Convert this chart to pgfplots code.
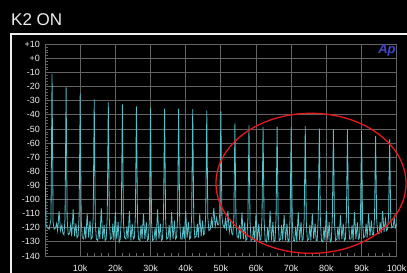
\documentclass[border=0pt]{standalone}
\usepackage{fontspec}
\setmainfont{Liberation Sans}
\usepackage{pgfplots}
\usepackage{pgfplotstable}
\pgfplotsset{compat=1.18}
\definecolor{trace}{RGB}{85,192,200}
\definecolor{gridc}{RGB}{100,100,100}
\definecolor{fg}{RGB}{238,238,238}
\definecolor{apblue}{RGB}{70,70,205}
\definecolor{ell}{RGB}{230,25,30}
\pgfplotstableread{
f db
0.0 -73
0.3 -118
0.7 -120
1.2 -121
1.7 -114
2.0 -11
2.3 -116
2.6 -121
3.0 -120
3.3 -117
3.6 -122
4.0 -108
4.4 -122
4.8 -118
5.1 -124
5.4 -125
5.7 -113
6.0 -20.5
6.3 -114
6.6 -125
7.0 -124
7.3 -118
7.6 -126
8.0 -107
8.4 -126
8.8 -117
9.1 -127
9.4 -126
9.7 -112
10.0 -25
10.3 -115
10.6 -127
11.0 -128
11.3 -119
11.6 -128
12.0 -110
12.4 -127
12.8 -115
13.1 -128
13.4 -127
13.7 -113
14.0 -29
14.3 -116
14.6 -128
15.0 -129
15.3 -120
15.6 -128
16.0 -106
16.4 -128
16.8 -118
17.1 -129
17.4 -128
17.7 -112
18.0 -31
18.3 -115
18.6 -128
19.0 -127
19.3 -117
19.6 -129
20.0 -109
20.4 -128
20.8 -116
21.1 -130
21.4 -128
21.7 -113
22.0 -32.5
22.3 -116
22.6 -127
23.0 -128
23.3 -119
23.6 -128
24.0 -108
24.4 -129
24.8 -117
25.1 -128
25.4 -127
25.7 -112
26.0 -34
26.3 -115
26.6 -128
27.0 -129
27.3 -118
27.6 -128
28.0 -110
28.4 -128
28.8 -116
29.1 -129
29.4 -128
29.7 -113
30.0 -35
30.3 -116
30.6 -129
31.0 -128
31.3 -120
31.6 -129
32.0 -107
32.4 -128
32.8 -117
33.1 -129
33.4 -128
33.7 -112
34.0 -35.5
34.3 -114
34.6 -128
35.0 -127
35.3 -118
35.6 -129
36.0 -109
36.4 -128
36.8 -115
37.1 -128
37.4 -127
37.7 -113
38.0 -35.5
38.3 -116
38.6 -128
39.0 -128
39.3 -119
39.6 -128
40.0 -108
40.4 -127
40.8 -116
41.1 -128
41.4 -127
41.7 -112
42.0 -36
42.3 -115
42.6 -127
43.0 -126
43.3 -117
43.6 -127
44.0 -110
44.4 -126
44.8 -115
45.1 -125
45.4 -124
45.7 -111
46.0 -37
46.3 -113
46.6 -122
47.0 -121
47.3 -114
47.6 -120
48.0 -106
48.4 -119
48.8 -113
49.1 -118
49.4 -118
49.7 -110
50.0 -37.5
50.3 -112
50.6 -118
51.0 -120
51.3 -114
51.6 -122
52.0 -108
52.4 -123
52.8 -116
53.1 -124
53.4 -125
53.7 -113
54.0 -46
54.3 -115
54.6 -126
55.0 -127
55.3 -118
55.6 -128
56.0 -109
56.4 -128
56.8 -116
57.1 -129
57.4 -128
57.7 -113
58.0 -47.5
58.3 -116
58.6 -129
59.0 -128
59.3 -119
59.6 -130
60.0 -110
60.4 -129
60.8 -117
61.1 -129
61.4 -128
61.7 -112
62.0 -48.5
62.3 -115
62.6 -129
63.0 -130
63.3 -120
63.6 -129
64.0 -108
64.4 -129
64.8 -116
65.1 -130
65.4 -129
65.7 -113
66.0 -48.5
66.3 -116
66.6 -129
67.0 -128
67.3 -118
67.6 -129
68.0 -111
68.4 -129
68.8 -117
69.1 -130
69.4 -129
69.7 -112
70.0 -48.5
70.3 -115
70.6 -129
71.0 -129
71.3 -119
71.6 -130
72.0 -109
72.4 -129
72.8 -116
73.1 -129
73.4 -128
73.7 -113
74.0 -48
74.3 -116
74.6 -129
75.0 -128
75.3 -118
75.6 -129
76.0 -110
76.4 -128
76.8 -117
77.1 -129
77.4 -129
77.7 -112
78.0 -49.5
78.3 -115
78.6 -129
79.0 -130
79.3 -120
79.6 -129
80.0 -108
80.4 -129
80.8 -116
81.1 -130
81.4 -129
81.7 -113
82.0 -50.5
82.3 -116
82.6 -129
83.0 -128
83.3 -119
83.6 -129
84.0 -111
84.4 -128
84.8 -117
85.1 -129
85.4 -128
85.7 -112
86.0 -50.5
86.3 -115
86.6 -128
87.0 -128
87.3 -118
87.6 -129
88.0 -109
88.4 -128
88.8 -116
89.1 -128
89.4 -127
89.7 -113
90.0 -51.5
90.3 -116
90.6 -127
91.0 -126
91.3 -117
91.6 -127
92.0 -110
92.4 -126
92.8 -115
93.1 -125
93.4 -125
93.7 -112
94.0 -55
94.3 -114
94.6 -124
95.0 -124
95.3 -116
95.6 -124
96.0 -108
96.4 -123
96.8 -114
97.1 -122
97.4 -121
97.7 -111
98.0 -57
98.3 -113
98.6 -120
99.0 -119
99.3 -113
99.6 -120
100.0 -117
}\spectrum

\begin{document}
\begin{tikzpicture}[x=1pt,y=1pt]
\fill[black] (0,0) rectangle (407,273);
\begin{axis}[
  at={(45pt,17pt)}, anchor=south west,
  scale only axis, width=351.7pt, height=211.7pt,
  xmin=0, xmax=100, ymin=-140, ymax=10,
  axis background/.style={fill=black},
  axis line style={gridc, line width=0.8pt},
  grid=major, major grid style={gridc, line width=0.8pt},
  xtick={10,20,...,100},
  xticklabels={10k,20k,30k,40k,50k,60k,70k,80k,90k,100k},
  ytick={-140,-130,...,10},
  yticklabels={-140,-130,-120,-110,-100,-90,-80,-70,-60,-50,-40,-30,-20,-10,+0,+10},
  minor x tick num=4, minor y tick num=4,
  tick style={gridc, line width=0.6pt},
  major tick length=0pt, minor tick length=3pt,
  tick pos=left,
  ticklabel style={fg, font=\fontsize{9}{9}\selectfont},
  xticklabel style={anchor=center, yshift=-12pt},
  yticklabel style={anchor=east, inner sep=0pt, xshift=-5pt},
]
\addplot[trace, line width=0.8pt] table[x=f, y=db] {\spectrum};
\end{axis}
\draw[fg, line width=1.5pt] (11,0) -- (11,239) -- (407,239);
\node[anchor=base west, inner sep=0pt, fg, font=\fontsize{17}{17}\selectfont] at (11,247) {K2 ON};
\node[apblue, inner sep=0pt, font=\fontsize{13}{13}\selectfont\bfseries\itshape] at (387,223) {Ap};
\draw[ell, line width=1.3pt] (311,89.7) ellipse [x radius=95, y radius=70];
\pgfresetboundingbox
\useasboundingbox (0,0) rectangle (407,273);
\end{tikzpicture}
\end{document}
